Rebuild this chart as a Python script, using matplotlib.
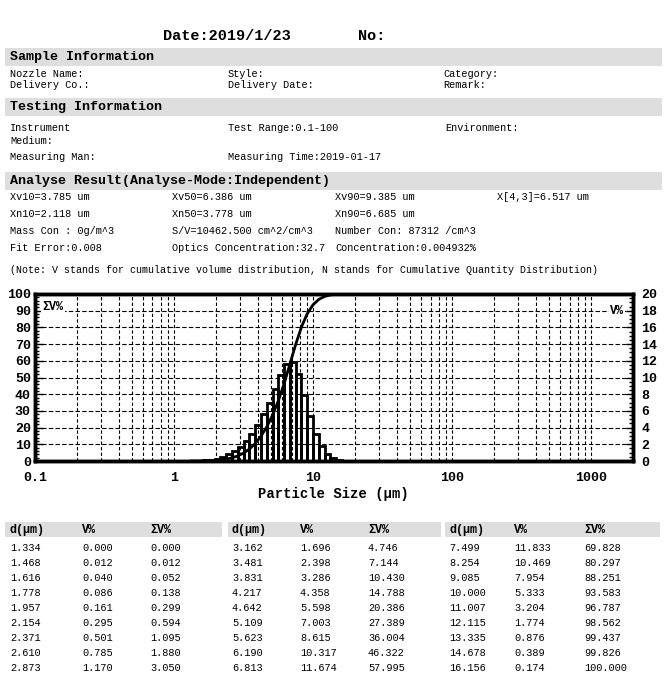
"""
Particle size analysis report: header fields, histogram + cumulative curve,
and the size table underneath.
"""
import matplotlib
matplotlib.use('Agg')
import matplotlib.pyplot as plt
from matplotlib.patches import Rectangle
from matplotlib.ticker import FixedLocator, MultipleLocator, NullFormatter

# size classes (um), volume fraction per class and cumulative volume
d = [1.334, 1.468, 1.616, 1.778, 1.957, 2.154, 2.371, 2.610, 2.873,
     3.162, 3.481, 3.831, 4.217, 4.642, 5.109, 5.623, 6.190, 6.813,
     7.499, 8.254, 9.085, 10.000, 11.007, 12.115, 13.335, 14.678, 16.156]
v = [0.000, 0.012, 0.040, 0.086, 0.161, 0.295, 0.501, 0.785, 1.170,
     1.696, 2.398, 3.286, 4.358, 5.598, 7.003, 8.615, 10.317, 11.674,
     11.833, 10.469, 7.954, 5.333, 3.204, 1.774, 0.876, 0.389, 0.174]
cum = [0.000, 0.012, 0.052, 0.138, 0.299, 0.594, 1.095, 1.880, 3.050,
       4.746, 7.144, 10.430, 14.788, 20.386, 27.389, 36.004, 46.322, 57.995,
       69.828, 80.297, 88.251, 93.583, 96.787, 98.562, 99.437, 99.826, 100.000]

x_ticks = [0.1, 1, 10, 100, 1000]
x_tick_labels = ['0.1', '1', '10', '100', '1000']

sample_rows = [['Nozzle Name:', 'Style:', 'Category:'],
               ['Delivery Co.:', 'Delivery Date:', 'Remark:']]
testing_rows = [['Instrument', 'Test Range:0.1-100', 'Environment:'],
                ['Medium:', '', ''],
                ['Measuring Man:', 'Measuring Time:2019-01-17', '']]
result_rows = [['Xv10=3.785 um', 'Xv50=6.386 um', 'Xv90=9.385 um', 'X[4,3]=6.517 um'],
               ['Xn10=2.118 um', 'Xn50=3.778 um', 'Xn90=6.685 um', ''],
               ['Mass Con : 0g/m^3', 'S/V=10462.500 cm^2/cm^3', 'Number Con: 87312 /cm^3', ''],
               ['Fit Error:0.008', 'Optics Concentration:32.7', 'Concentration:0.004932%', '']]
note = ('(Note: V stands for cumulative volume distribution, '
        'N stands for Cumulative Quantity Distribution)')

W, H = 666, 694
MONO = ['Liberation Mono', 'DejaVu Sans Mono']
BAND = '#dedede'

fig = plt.figure(figsize=(W / 100, H / 100), dpi=100)


def fx(x):
    return x / W


def fy(y):
    return 1 - y / H


def txt(x, y, s, size=7.4, bold=False, ha='left'):
    fig.text(fx(x), fy(y), s, fontsize=size, family=MONO, ha=ha, va='center',
             fontweight='bold' if bold else 'normal')


def band(x0, x1, y0, y1):
    fig.add_artist(Rectangle((fx(x0), fy(y1)), fx(x1 - x0), (y1 - y0) / H,
                             transform=fig.transFigure, color=BAND, lw=0, zorder=0))


# header
txt(163, 36, 'Date:2019/1/23', size=11, bold=True)
txt(358, 36, 'No:', size=11, bold=True)

cols3 = [10, 228, 443]
band(5, 662, 48, 66)
txt(10, 57, 'Sample Information', size=9.6, bold=True)
for i, row in enumerate(sample_rows):
    for x, s in zip(cols3, row):
        txt(x, 74 + 11 * i, s)

band(5, 662, 98, 116)
txt(10, 107, 'Testing Information', size=9.6, bold=True)
for y, row in zip([128, 141, 157], testing_rows):
    for x, s in zip([10, 228, 445], row):
        txt(x, y, s)

band(5, 662, 172, 190)
txt(10, 181, 'Analyse Result(Analyse-Mode:Independent)', size=9.6, bold=True)
for i, row in enumerate(result_rows):
    for x, s in zip([10, 172, 335, 497], row):
        txt(x, 197 + 17 * i, s)
txt(10, 270, note, size=7.2)

# chart
ax = fig.add_axes([fx(35), fy(461), fx(633 - 35), (461 - 294) / H])
ax2 = ax.twinx()

ax.plot(d, cum, color='black', lw=2, zorder=3)
edges = [d[0] * d[0] / d[1]] + d[:-1]
widths = [b - a for a, b in zip(edges, d)]
ax2.bar(edges, v, width=widths, align='edge', fill=False,
        edgecolor='black', lw=2, zorder=3)

ax.set_xscale('log')
ax.set_xlim(0.1, 2000)
ax.set_ylim(0, 100)
ax2.set_ylim(0, 20)

ax.xaxis.set_major_locator(FixedLocator(x_ticks))
ax.set_xticklabels(x_tick_labels)
ax.xaxis.set_minor_formatter(NullFormatter())
ax.tick_params(axis='x', which='both', length=0, pad=8)
ax.grid(True, axis='x', which='both', color='black', lw=0.8, ls=(0, (3, 2)))
ax.yaxis.set_major_locator(MultipleLocator(10))
ax.yaxis.set_minor_locator(MultipleLocator(2))
ax.grid(True, axis='y', which='major', color='black', lw=0.8, ls=(0, (4, 2)))
ax.tick_params(axis='y', which='major', direction='in', length=6, width=1, pad=3)
ax.tick_params(axis='y', which='minor', direction='in', length=3, width=1)
ax2.yaxis.set_major_locator(MultipleLocator(2))
ax2.yaxis.set_minor_locator(MultipleLocator(0.5))
ax2.tick_params(axis='y', which='major', direction='in', length=5, width=1, pad=6)
ax2.tick_params(axis='y', which='minor', direction='in', length=3, width=1)

for a in (ax, ax2):
    for sp in a.spines.values():
        sp.set_linewidth(2.5)
    for lab in a.get_xticklabels() + a.get_yticklabels():
        lab.set_family(MONO)
        lab.set_fontweight('bold')
        lab.set_fontsize(9.5)

ax.text(0.012, 0.92, 'ΣV%', transform=ax.transAxes, family=MONO,
        fontweight='bold', fontsize=8.5, va='center', ha='left',
        bbox=dict(facecolor='white', edgecolor='none', pad=1))
ax.text(0.985, 0.9, 'V%', transform=ax.transAxes, family=MONO,
        fontweight='bold', fontsize=8.5, va='center', ha='right',
        bbox=dict(facecolor='white', edgecolor='none', pad=1))
txt(333, 494, 'Particle Size (μm)', size=10, bold=True, ha='center')

# table
groups = [(5, 222, [10, 82, 150]), (228, 441, [232, 300, 368]),
          (445, 660, [449, 514, 584])]
for g, (x0, x1, cols) in enumerate(groups):
    band(x0, x1, 522, 537)
    for x, s in zip(cols, ['d(μm)', 'V%', 'ΣV%']):
        txt(x, 530, s, size=8.5, bold=True)
    for i in range(9):
        k = g * 9 + i
        y = 548 + 15 * i
        txt(cols[0], y, f'{d[k]:.3f}')
        txt(cols[1], y, f'{v[k]:.3f}')
        txt(cols[2], y, f'{cum[k]:.3f}')

fig.savefig('out.png', dpi=100)
